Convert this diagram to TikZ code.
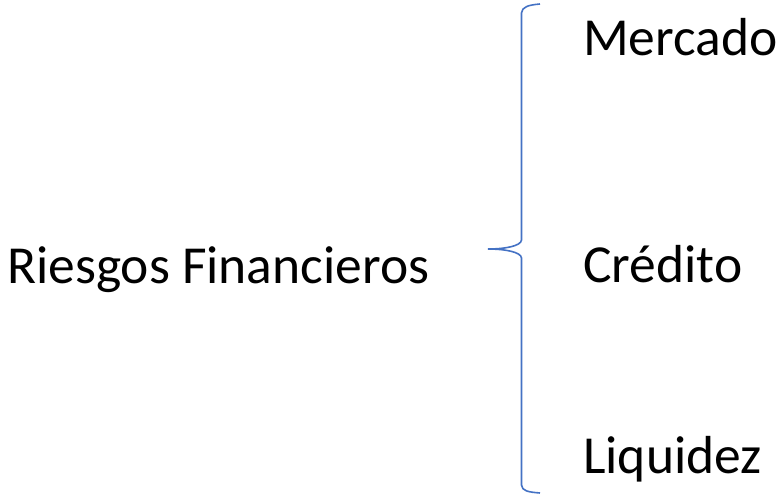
\documentclass[tikz,border=0pt]{standalone}
\usepackage{fontspec}
\setmainfont{Carlito}
\definecolor{bracecol}{HTML}{4472C4}
\tikzset{
  label/.style={anchor=base west, inner sep=0pt, font=\fontsize{53.5}{60}\selectfont},
  bracestyle/.style={draw=bracecol, line width=1.6pt}
}
\begin{document}
\begin{tikzpicture}[x=1pt,y=-1pt]
\useasboundingbox (0,0) rectangle (781,498);
\node[label] (root) at (7,283) {Riesgos Financieros};
\node[label] (m) at (583,55) {Mercado};
\node[label] (c) at (583,282) {Crédito};
\node[label] (l) at (583,473) {Liquidez};
\coordinate (btop) at (540,4);
\coordinate (btip) at (488,249);
\coordinate (bbot) at (540,493);
\draw[bracestyle] (btop) .. controls (528,5) and (522,7) .. (521.5,13)
  -- (521.5,240) .. controls (521,246) and (505,249) .. (btip)
  .. controls (505,249) and (521,252) .. (521.5,258)
  -- (521.5,485) .. controls (522,491) and (528,492) .. (bbot);
\end{tikzpicture}
\end{document}
